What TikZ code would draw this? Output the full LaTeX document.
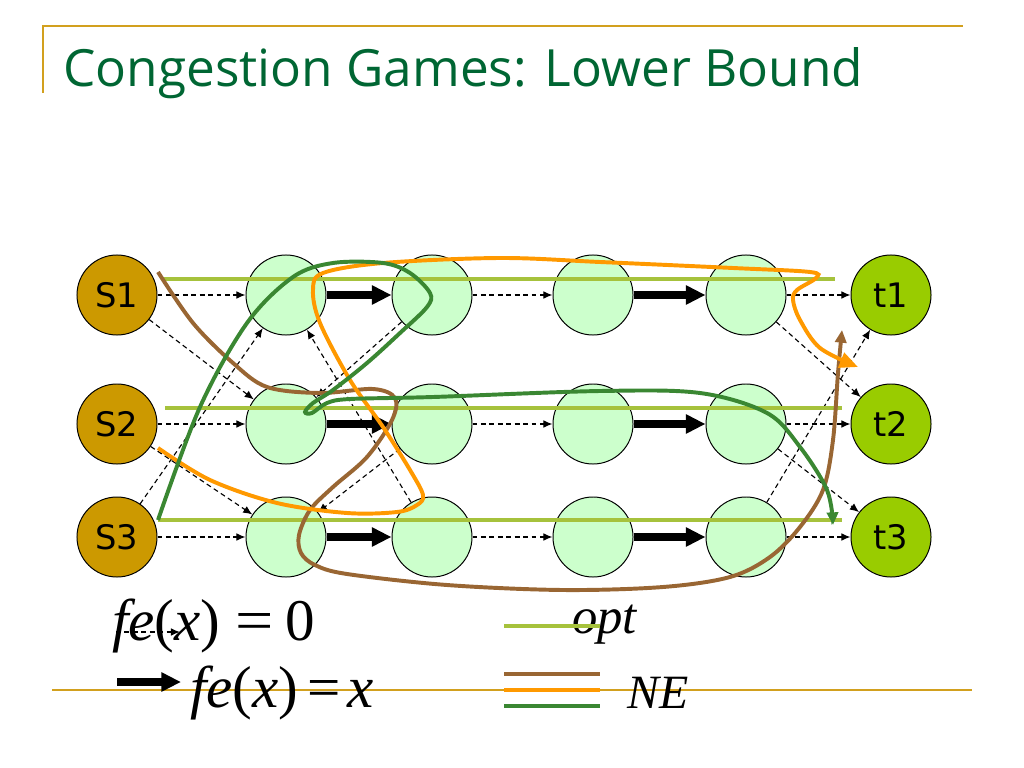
\documentclass[tikz,border=0pt]{standalone}
\usepackage{fontspec}
\setmainfont{Liberation Serif}
\newfontfamily\nodefont{DejaVu Sans}
\newfontfamily\headfont{Open Sans}
\usetikzlibrary{arrows.meta}
\definecolor{golden}{RGB}{204,153,0}
\definecolor{rulegold}{RGB}{210,160,30}
\definecolor{sinkgreen}{RGB}{153,204,0}
\definecolor{paleg}{RGB}{204,255,204}
\definecolor{optgreen}{RGB}{166,194,60}
\definecolor{nebrown}{RGB}{153,102,51}
\definecolor{neorange}{RGB}{255,153,0}
\definecolor{negreen}{RGB}{58,135,50}
\definecolor{headgreen}{RGB}{0,102,51}

\begin{document}
\begin{tikzpicture}[x=0.025cm,y=-0.025cm,
	vert/.style={circle,draw=black,line width=0.7pt,minimum size=2cm,inner sep=0pt,font=\nodefont\fontsize{24}{24}\selectfont},
	src/.style={vert,fill=golden},
	sink/.style={vert,fill=sinkgreen},
	mid/.style={vert,fill=paleg},
	zero/.style={dash pattern=on 3.5pt off 2.5pt,line width=0.8pt,-{Latex[length=6.5pt,width=5.5pt]}},
	lin/.style={line width=5pt,-{Triangle[length=14pt,width=13pt]}},
	optline/.style={optgreen,line width=3.5pt},
	nepath/.style={line width=2.8pt,smooth,tension=0.55},
	legtext/.style={anchor=base west,inner sep=0pt,font=\fontsize{42}{42}\selectfont}]
	\useasboundingbox (0,0) rectangle (1024,768);

	% title and rules
	\draw[rulegold,line width=1.4pt] (43,93) -- (43,26) -- (963,26);
	\node[anchor=base west,inner sep=0pt,text=headgreen,font=\headfont\fontsize{36.5}{36.5}\selectfont] (title) at (63,87) {Congestion Games: Lower Bound};
	\draw[rulegold,line width=1.4pt] (52,690) -- (972,690);

	% vertices
	\node[src] (s1) at (117,295) {S1};
	\node[src] (s2) at (117,424) {S2};
	\node[src] (s3) at (117,537) {S3};
	\node[mid] (a1) at (286,295) {};
	\node[mid] (a2) at (286,424) {};
	\node[mid] (a3) at (286,537) {};
	\node[mid] (b1) at (432,295) {};
	\node[mid] (b2) at (432,424) {};
	\node[mid] (b3) at (432,537) {};
	\node[mid] (c1) at (593,295) {};
	\node[mid] (c2) at (593,424) {};
	\node[mid] (c3) at (593,537) {};
	\node[mid] (d1) at (746,295) {};
	\node[mid] (d2) at (746,424) {};
	\node[mid] (d3) at (746,537) {};
	\node[sink] (t1) at (891,295) {t1};
	\node[sink] (t2) at (891,424) {t2};
	\node[sink] (t3) at (891,537) {t3};

	% edges with zero cost
	\draw[zero] (s1) -- (a1);
	\draw[zero] (s2) -- (a2);
	\draw[zero] (s3) -- (a3);
	\draw[zero] (s1) -- (a2);
	\draw[zero] (s2) -- (a3);
	\draw[zero] (s3) -- (a1);
	\draw[zero] (b1) -- (a2);
	\draw[zero] (b2) -- (a3);
	\draw[zero] (b3) -- (a1);
	\draw[zero] (b1) -- (c1);
	\draw[zero] (b2) -- (c2);
	\draw[zero] (b3) -- (c3);
	\draw[zero] (d1) -- (t1);
	\draw[zero] (d2) -- (t2);
	\draw[zero] (d3) -- (t3);
	\draw[zero] (d1) -- (t2);
	\draw[zero] (d2) -- (t3);
	\draw[zero] (d3) -- (t1);

	% edges with cost x
	\draw[lin] (a1) -- (b1);
	\draw[lin] (a2) -- (b2);
	\draw[lin] (a3) -- (b3);
	\draw[lin] (c1) -- (d1);
	\draw[lin] (c2) -- (d2);
	\draw[lin] (c3) -- (d3);

	% optimum
	\draw[optline] (163,279) -- (835,279);
	\draw[optline] (165,408) -- (842,408);
	\draw[optline] (158,520) -- (842,520);

	% Nash equilibrium
	\draw[nepath,nebrown,-{Triangle[length=9pt,width=8pt]}] plot coordinates {(158,272) (193,323) (233,363) (267,387) (320,393) (373,389) (395,398) (392,420) (367,457) (333,487) (310,510) (299,535) (301,553) (315,565) (347,574) (447,585) (563,590) (663,587) (730,577) (770,557) (800,527) (823,490) (833,440) (838,373) (842,330)};
	\draw[nepath,neorange,-{Triangle[length=13pt,width=11pt]}] plot coordinates {(158,448) (210,480) (277,503) (347,513) (397,512) (417,505) (423,495) (410,470) (383,427) (350,380) (320,323) (313,290) (323,273) (383,263) (500,258) (600,262) (733,268) (810,272) (816,278) (797,290) (793,300) (800,320) (820,348) (858,367)};
	\draw[nepath,negreen,-{Triangle[length=9pt,width=8pt]}] plot coordinates {(158,520) (200,407) (247,323) (293,277) (333,263) (383,263) (410,273) (430,293) (427,307) (400,333) (367,363) (333,390) (313,403) (305,412) (312,413) (327,403) (350,399) (433,397) (600,391) (700,393) (767,413) (800,447) (827,490) (833,525)};

	% legend
	\coordinate (zl) at (116,632);
	\coordinate (zr) at (180,632);
	\coordinate (ll) at (117,682);
	\coordinate (lr) at (181,682);
	\node[legtext] (fzero) at (112,640) {\textit{fe}(\textit{x})\hspace{0.26em}\scalebox{1.15}[1]{=}\hspace{0.2em}0};
	\node[legtext] (flin) at (190,707) {\textit{fe}(\textit{x})\hspace{0.16em}=\hspace{0.1em}\textit{x}};
	\node[legtext,font=\fontsize{36}{36}\selectfont] (optlab) at (572,633) {\textit{opt}};
	\node[legtext,font=\fontsize{34}{34}\selectfont] (nelab) at (627,708) {\textit{NE}};
	\draw[zero] (zl) -- (zr);
	\draw[lin] (ll) -- (lr);
	\draw[optline,line width=2.8pt] (504,626) -- (600,626);
	\draw[nebrown,line width=2.8pt] (504,674) -- (600,674);
	\draw[neorange,line width=2.8pt] (504,690) -- (600,690);
	\draw[negreen,line width=2.8pt] (504,706) -- (600,706);
\end{tikzpicture}
\end{document}
